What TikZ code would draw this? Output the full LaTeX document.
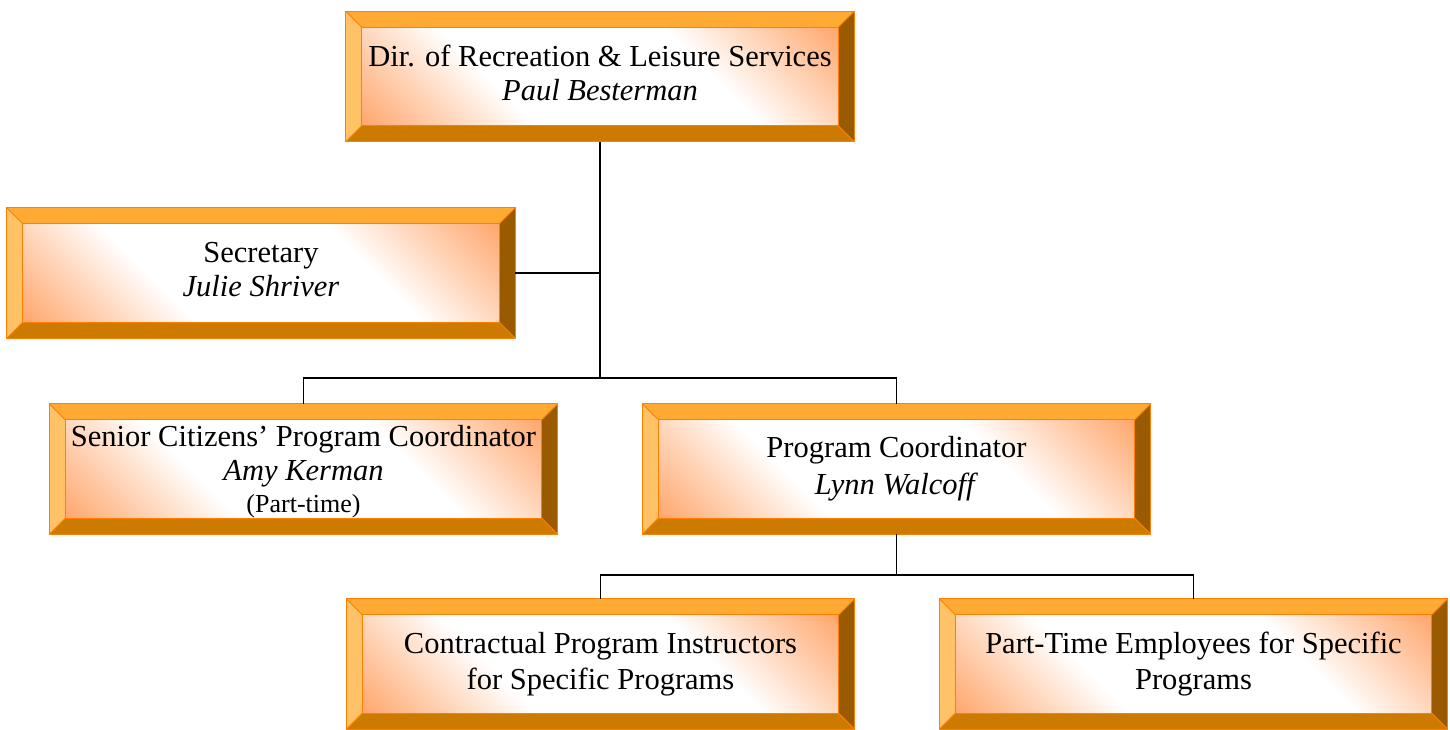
\documentclass[tikz,border=0pt]{standalone}
\usepackage{fontspec}
\setmainfont{Liberation Serif}
\usetikzlibrary{calc}
\definecolor{bvTop}{HTML}{FFAA33}
\definecolor{bvLeft}{HTML}{FFC266}
\definecolor{bvBot}{HTML}{CD7A00}
\definecolor{bvRight}{HTML}{9A5B00}
\definecolor{bvLine}{HTML}{FF8000}
\definecolor{bvO}{HTML}{FFA468}
\pgfdeclareverticalshading{bevshade}{100bp}{color(0bp)=(bvO); color(14bp)=(bvO); color(36bp)=(white); color(64bp)=(white); color(86bp)=(bvO); color(100bp)=(bvO)}
\tikzset{
  boxframe/.style={minimum width=508pt, minimum height=130pt, inner sep=0pt},
  bevedge/.style={draw=bvLine, line width=0.9pt, line join=round},
  boxtext/.style={align=center, font=\fontsize{30.5}{34}\selectfont},
  conn/.style={line width=1.8pt, draw=black},
}
\newcommand\bevbox[5][]{% opts, name, cx, cy, text
  \node[boxframe] (#2) at (#3,#4) {};
  \fill[bvTop] (#2.north west) -- (#2.north east) -- ([shift={(-16,16)}]#2.north east) -- ([shift={(16,16)}]#2.north west) -- cycle;
  \fill[bvLeft] (#2.north west) -- ([shift={(16,16)}]#2.north west) -- ([shift={(16,-16)}]#2.south west) -- (#2.south west) -- cycle;
  \fill[bvBot] (#2.south west) -- (#2.south east) -- ([shift={(-16,-16)}]#2.south east) -- ([shift={(16,-16)}]#2.south west) -- cycle;
  \fill[bvRight] (#2.north east) -- (#2.south east) -- ([shift={(-16,-16)}]#2.south east) -- ([shift={(-16,16)}]#2.north east) -- cycle;
  \shade[shading=bevshade, shading angle=-45] ([shift={(16,16)}]#2.north west) rectangle ([shift={(-16,-16)}]#2.south east);
  \draw[bevedge] (#2.north west) rectangle (#2.south east);
  \draw[bevedge] ([shift={(16,16)}]#2.north west) rectangle ([shift={(-16,-16)}]#2.south east);
  \draw[bevedge] (#2.north west) -- ([shift={(16,16)}]#2.north west)
    (#2.north east) -- ([shift={(-16,16)}]#2.north east)
    (#2.south west) -- ([shift={(16,-16)}]#2.south west)
    (#2.south east) -- ([shift={(-16,-16)}]#2.south east);
  \node[boxtext, #1] (#2-t) at (#2.center) {#5};
}
\begin{document}
\begin{tikzpicture}[x=1pt, y=-1pt]
\useasboundingbox (0,0) rectangle (1450,729);
\coordinate (j1) at (600,378);
\coordinate (j2) at (896.5,575);
\bevbox[yshift=4pt]{dir}{600}{76.5}{Dir. of Recreation \& Leisure Services\\\textit{Paul Besterman}}
\bevbox[yshift=3pt]{sec}{261}{273}{Secretary\\\textit{Julie Shriver}}
\bevbox[yshift=-3pt]{sen}{303.5}{469}{Senior Citizens’ Program Coordinator\\\textit{Amy Kerman}\\[-2pt]{\fontsize{26}{30}\selectfont (Part-time)}}
\bevbox{pc}{896.5}{469}{Program Coordinator\\[3pt]\textit{Lynn Walcoff}}
\bevbox{con}{600.5}{664}{Contractual Program Instructors\\[2pt]for Specific Programs}
\bevbox{pt}{1193.5}{664}{Part-Time Employees for Specific\\[2pt]Programs}
\draw[conn] (dir.south) -- (j1);
\draw[conn] (sec.east) -- (sec.east -| j1);
\draw[conn] (sen.north) -- (sen.north |- j1) -- (pc.north |- j1) -- (pc.north);
\draw[conn] (pc.south) -- (j2);
\draw[conn] (con.north) -- (con.north |- j2) -- (pt.north |- j2) -- (pt.north);
\end{tikzpicture}
\end{document}
